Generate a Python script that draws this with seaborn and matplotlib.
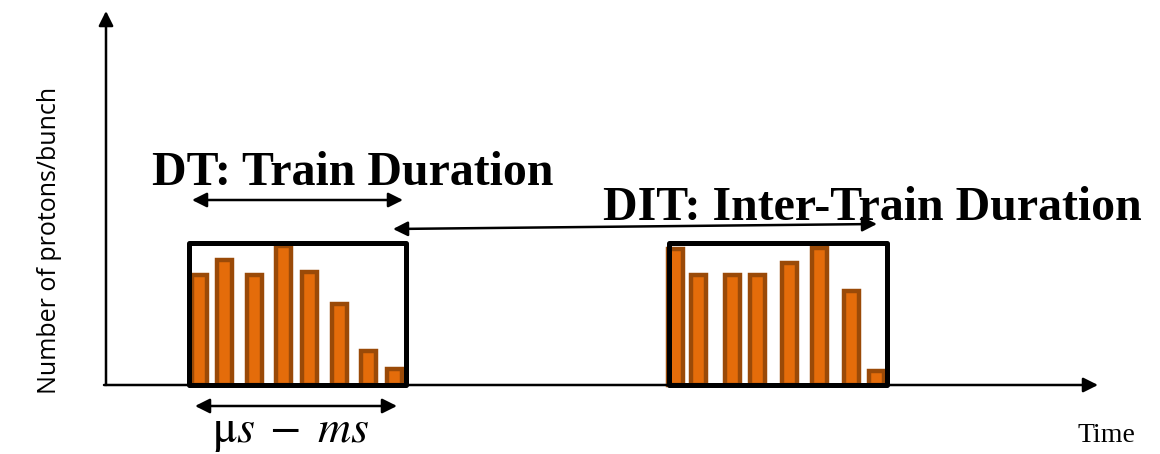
import numpy as np
import pandas as pd
import matplotlib
matplotlib.use('Agg')
import matplotlib.pyplot as plt
from matplotlib.patches import Rectangle
import seaborn as sns

# Bunch times (arbitrary time units) and bunch intensities for the two trains
train1_time = [199, 224.5, 254.5, 283.5, 309, 339, 368, 394]
train1_protons = [110, 125, 110, 139, 113, 81, 34, 16]
train2_time = [675.5, 698.5, 732, 757, 789.5, 819.5, 851, 876]
train2_protons = [136, 110, 110, 110, 122, 137, 94, 14]

# Train windows: (start, end, height)
train_windows = [(189, 406, 142), (668.5, 886.5, 142)]

y_label = 'Number of protons/bunch'
x_label = 'Time'
dt_label = 'DT: Train Duration'
dit_label = 'DIT: Inter-Train Duration'
scale_label = r'μ$s\;-\;ms$'

df = pd.DataFrame({
    'time': train1_time + train2_time,
    'protons': train1_protons + train2_protons,
})

sns.set_style('white')
plt.rcParams['mathtext.fontset'] = 'stix'
plt.rcParams['text.color'] = 'black'

fig = plt.figure(figsize=(11.6, 4.54), dpi=100)
ax = fig.add_axes([0, 0, 1, 1])

# bar width in data units (~15) relative to the closest bunch spacing
min_gap = np.diff(np.sort(df['time'].unique())).min()
sns.barplot(data=df, x='time', y='protons', native_scale=True,
            width=15 / min_gap, color='#E46C0A', saturation=1,
            edgecolor='#9A4A08', linewidth=3.2, errorbar=None, ax=ax,
            zorder=2)

for start, end, h in train_windows:
    ax.add_patch(Rectangle((start, 0), end - start, h, fill=False,
                           edgecolor='black', linewidth=3.6, zorder=3,
                           joinstyle='round'))

arrow = dict(arrowstyle='-|>', color='black', lw=1.8, mutation_scale=22,
             shrinkA=0, shrinkB=0)
darrow = dict(arrowstyle='<|-|>', color='black', lw=1.8, mutation_scale=22,
              shrinkA=0, shrinkB=0)

# axes drawn as arrows
ax.annotate('', xy=(106, 374), xytext=(106, 0), arrowprops=arrow)
ax.annotate('', xy=(1098, 0), xytext=(104, 0), arrowprops=arrow)

# duration arrows
ax.annotate('', xy=(403, 185), xytext=(192, 185), arrowprops=darrow)
ax.annotate('', xy=(877, 161), xytext=(393, 156), arrowprops=darrow)
ax.annotate('', xy=(397, -21), xytext=(195, -21), arrowprops=darrow)

ax.text(152, 200, dt_label, fontsize=34.5, fontweight='bold',
        family='Liberation Serif', ha='left', va='baseline')
ax.text(603, 165, dit_label, fontsize=34.5, fontweight='bold',
        family='Liberation Serif', ha='left', va='baseline')
ax.text(212, -57, scale_label, fontsize=33, family='STIXGeneral',
        ha='left', va='baseline')
ax.text(1077, -57, x_label, fontsize=20, family='Liberation Serif',
        ha='left', va='baseline')
ax.text(50, 145, y_label, fontsize=18, family='Open Sans', rotation=90,
        ha='center', va='center')

ax.set_xlim(0, 1160)
ax.set_ylim(-69, 385)
ax.axis('off')

fig.savefig('out.png', dpi=100)
